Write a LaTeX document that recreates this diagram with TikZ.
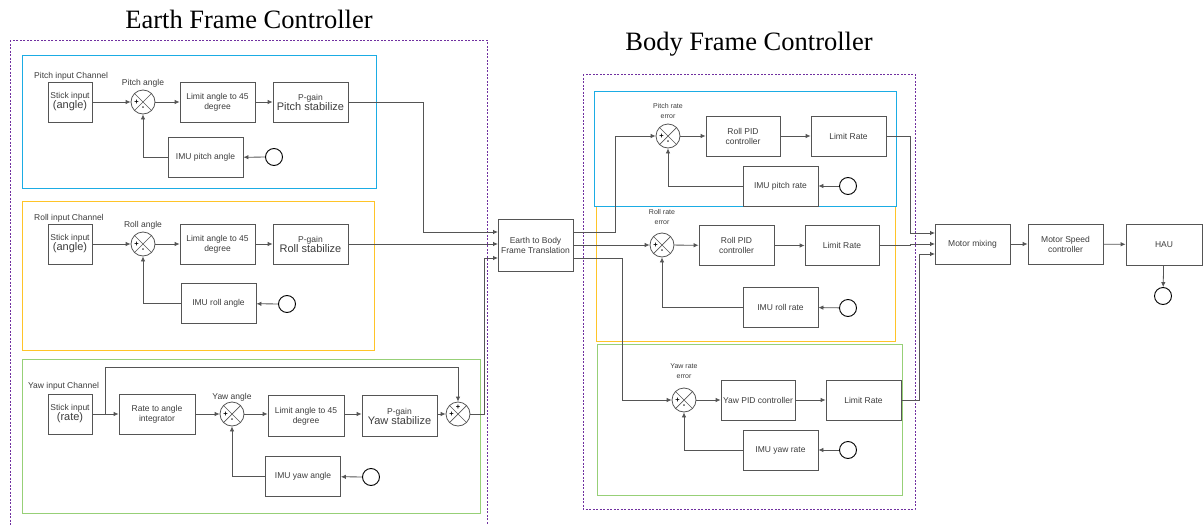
\documentclass[tikz,border=0pt]{standalone}
\usepackage{fontspec}
\setmainfont{Liberation Sans}
\newfontfamily\titlefont{Liberation Serif}
\usetikzlibrary{arrows.meta}
\definecolor{linegray}{RGB}{85,85,85}
\definecolor{textgray}{RGB}{60,60,60}
\definecolor{pitchblue}{RGB}{27,172,228}
\definecolor{rollyellow}{RGB}{255,196,40}
\definecolor{yawgreen}{RGB}{151,208,119}
\definecolor{framepurple}{RGB}{112,48,160}
\newcommand{\plusminus}[1]{%
  \node[sign_style] (#1p) at ([xshift=-6.5pt]#1.center) {+};
  \node[sign_style] (#1m) at ([yshift=-6.5pt]#1.center) {-};}
\begin{document}
\begin{tikzpicture}[x=1pt, y=-1pt, >={Latex[length=5pt,width=4.5pt]},
  block_style/.style={draw=linegray, line width=0.8pt, text=textgray, align=center, inner sep=1pt,
    minimum width=75pt, minimum height=40pt, font=\fontsize{8.5}{10}\selectfont},
  stick_style/.style={block_style, minimum width=44pt},
  sum_style/.style={circle, draw=linegray, line width=0.8pt, minimum size=24pt, inner sep=0pt,
    path picture={\draw[linegray, line width=0.7pt]
      (path picture bounding box.north west) -- (path picture bounding box.south east)
      (path picture bounding box.north east) -- (path picture bounding box.south west);}},
  sign_style/.style={inner sep=0pt, text=black, font=\bfseries\fontsize{7.5}{7.5}\selectfont},
  src_style/.style={circle, draw=black, line width=0.9pt, minimum size=17pt, inner sep=0pt},
  lbl_style/.style={text=textgray, inner sep=0pt, font=\fontsize{8.5}{10}\selectfont},
  tiny_style/.style={text=textgray, inner sep=0pt, align=center, font=\fontsize{7}{9.5}\selectfont},
  edge_style/.style={draw=linegray, line width=0.8pt},
  frame_style/.style={draw=framepurple, line width=0.7pt, dash pattern=on 2pt off 1.5pt},
  big_style/.style={inner sep=0pt, font=\titlefont\fontsize{26.5}{30}\selectfont}]
  \useasboundingbox (0,0) rectangle (1203,525);

  % frames and channel panels
  \draw[frame_style] (10,40) rectangle (487,535);
  \draw[frame_style] (583,74) rectangle (915,509);
  \draw[pitchblue, line width=0.9pt] (22,55) rectangle (376,188);
  \draw[rollyellow, line width=0.9pt] (22,201) rectangle (374,350);
  \draw[yawgreen, line width=0.9pt] (22,359) rectangle (480,513);
  \draw[rollyellow, line width=0.9pt] (596,206) rectangle (895,341);
  \draw[pitchblue, line width=0.9pt] (594,91) rectangle (896,206);
  \draw[yawgreen, line width=0.9pt] (597,344) rectangle (902,495);

  \node[big_style] (earthtitle) at (249,19) {Earth Frame Controller};
  \node[big_style] (bodytitle) at (749,44) {Body Frame Controller};

  % earth frame: pitch
  \draw
    (70,102) node[stick_style] (sin1) {Stick input\\{\fontsize{11}{12}\selectfont (angle)}}
    (143,102) node[sum_style] (sum1) {}
    (217.5,102) node[block_style] (lim1) {Limit angle to 45\\degree}
    (310.5,102) node[block_style] (pg1) {P-gain\\{\fontsize{11}{12}\selectfont Pitch stabilize}}
    (205.5,157.5) node[block_style] (imu1) {IMU pitch angle}
    (274,157) node[src_style] (src1) {};
  \node[lbl_style, anchor=west] (ch1) at (34,76) {Pitch input Channel};
  \node[lbl_style] (ang1) at (143,83) {Pitch angle};
  \plusminus{sum1}

  % earth frame: roll
  \draw
    (70,244) node[stick_style] (sin2) {Stick input\\{\fontsize{11}{12}\selectfont (angle)}}
    (143,244) node[sum_style] (sum2) {}
    (217.5,244) node[block_style] (lim2) {Limit angle to 45\\degree}
    (310.5,244) node[block_style] (pg2) {P-gain\\{\fontsize{11}{12}\selectfont Roll stabilize}}
    (218.5,303.5) node[block_style] (imu2) {IMU roll angle}
    (287,304) node[src_style] (src2) {};
  \node[lbl_style, anchor=west] (ch2) at (34,218) {Roll input Channel};
  \node[lbl_style] (ang2) at (143,225) {Roll angle};
  \plusminus{sum2}

  % earth frame: yaw
  \draw
    (70,414) node[stick_style] (sin3) {Stick input\\{\fontsize{11}{12}\selectfont (rate)}}
    (157,414) node[block_style, minimum width=76pt] (int3) {Rate to angle\\integrator}
    (232,414) node[sum_style] (sum3) {}
    (306,416) node[block_style, minimum width=76pt, minimum height=41pt] (lim3) {Limit angle to 45\\degree}
    (399.5,416) node[block_style, minimum height=41pt] (pg3) {P-gain\\{\fontsize{11}{12}\selectfont Yaw stabilize}}
    (458,414) node[sum_style] (sum3b) {}
    (303,476.5) node[block_style] (imu3) {IMU yaw angle}
    (371,477) node[src_style] (src3) {};
  \node[lbl_style, anchor=west] (ch3) at (28,386) {Yaw input Channel};
  \node[lbl_style] (ang3) at (232,397) {Yaw angle};
  \plusminus{sum3}
  \node[sign_style] (sum3bp) at ([xshift=-6.5pt]sum3b.center) {+};
  \node[sign_style] (sum3bq) at ([yshift=6.5pt]sum3b.center) {+};
  \coordinate (ffbr) at (105,414);

  % translation
  \node[block_style, minimum height=52pt] (etb) at (535.5,245) {Earth to Body\\Frame Translation};
  \coordinate (etbin1) at (498,232);
  \coordinate (etbin2) at (498,244);
  \coordinate (etbin3) at (498,258);
  \coordinate (etbout1) at (573,232);
  \coordinate (etbout2) at (573,245);
  \coordinate (etbout3) at (573,258);

  % body frame
  \draw
    (668,136) node[sum_style] (sum4) {}
    (743,136) node[block_style, minimum width=74pt] (pid4) {Roll PID\\controller}
    (848.5,136) node[block_style] (lim4) {Limit Rate}
    (780.5,186) node[block_style] (imu4) {IMU pitch rate}
    (848,186) node[src_style] (src4) {}
    (662,245) node[sum_style] (sum5) {}
    (736.5,245.5) node[block_style] (pid5) {Roll PID\\controller}
    (842,245.5) node[block_style, minimum width=74pt] (lim5) {Limit Rate}
    (780.5,307) node[block_style] (imu5) {IMU roll rate}
    (848,308) node[src_style] (src5) {}
    (684,400) node[sum_style] (sum6) {}
    (758,400) node[block_style, minimum width=74pt] (pid6) {Yaw PID controller}
    (863.5,400) node[block_style] (lim6) {Limit Rate}
    (780.5,450) node[block_style] (imu6) {IMU yaw rate}
    (848,450) node[src_style] (src6) {};
  \node[tiny_style] (err4) at (668,111) {Pitch rate\\error};
  \node[tiny_style] (err5) at (662,217) {Roll rate\\error};
  \node[tiny_style] (err6) at (684,371) {Yaw rate\\error};
  \plusminus{sum4}
  \plusminus{sum5}
  \plusminus{sum6}

  % motors
  \draw
    (972.5,244) node[block_style] (mix) {Motor mixing}
    (1065.5,244) node[block_style] (msc) {Motor Speed\\controller}
    (1164,244.5) node[block_style, minimum width=76pt, minimum height=41pt] (hau) {HAU}
    (1163,296) node[src_style] (src7) {};
  \coordinate (mixin1) at (935,233);
  \coordinate (mixin2) at (935,244);
  \coordinate (mixin3) at (935,254);

  \begin{scope}[->]
    \draw[edge_style] (sin1) to (sum1);
    \draw[edge_style] (sum1) to (lim1);
    \draw[edge_style] (lim1) to (pg1);
    \draw[edge_style] (src1) to (imu1);
    \draw[edge_style] (imu1.west) -| (sum1.south);
    \draw[edge_style] (sin2) to (sum2);
    \draw[edge_style] (sum2) to (lim2);
    \draw[edge_style] (lim2) to (pg2);
    \draw[edge_style] (src2) to (imu2);
    \draw[edge_style] (imu2.west) -| (sum2.south);
    \draw[edge_style] (sin3) to (int3);
    \draw[edge_style] (int3) to (sum3);
    \draw[edge_style] (sum3.east) -- (lim3.west |- sum3.east);
    \draw[edge_style] (lim3.east |- sum3.east) -- (pg3.west |- sum3.east);
    \draw[edge_style] (pg3.east |- sum3b.west) -- (sum3b.west);
    \draw[edge_style] (src3) to (imu3);
    \draw[edge_style] (imu3.west) -| (sum3.south);
    \draw[edge_style] (ffbr) -- (105,367) -| (sum3b.north);
    \draw[edge_style] (pg1.east) -- (423,102) |- (etbin1);
    \draw[edge_style] (pg2.east) -- (etbin2);
    \draw[edge_style] (sum3b.east) -- (484,414) |- (etbin3);
    \draw[edge_style] (etbout1) -- (615,232) |- (sum4.west);
    \draw[edge_style] (etbout2) -- (sum5.west);
    \draw[edge_style] (etbout3) -- (622,258) |- (sum6.west);
    \draw[edge_style] (sum4) to (pid4);
    \draw[edge_style] (pid4) to (lim4);
    \draw[edge_style] (src4) to (imu4);
    \draw[edge_style] (imu4.west) -| (sum4.south);
    \draw[edge_style] (sum5) to (pid5);
    \draw[edge_style] (pid5) to (lim5);
    \draw[edge_style] (src5) to (imu5);
    \draw[edge_style] (imu5.west) -| (sum5.south);
    \draw[edge_style] (sum6) to (pid6);
    \draw[edge_style] (pid6) to (lim6);
    \draw[edge_style] (src6) to (imu6);
    \draw[edge_style] (imu6.west) -| (sum6.south);
    \draw[edge_style] (lim4.east) -- (910,136) |- (mixin1);
    \draw[edge_style] (lim5.east) -- (910,245.5) |- (mixin2);
    \draw[edge_style] (lim6.east) -- (919,400) |- (mixin3);
    \draw[edge_style] (mix) to (msc);
    \draw[edge_style] (msc) to (hau);
    \draw[edge_style] (hau) to (src7);
  \end{scope}
\end{tikzpicture}
\end{document}
